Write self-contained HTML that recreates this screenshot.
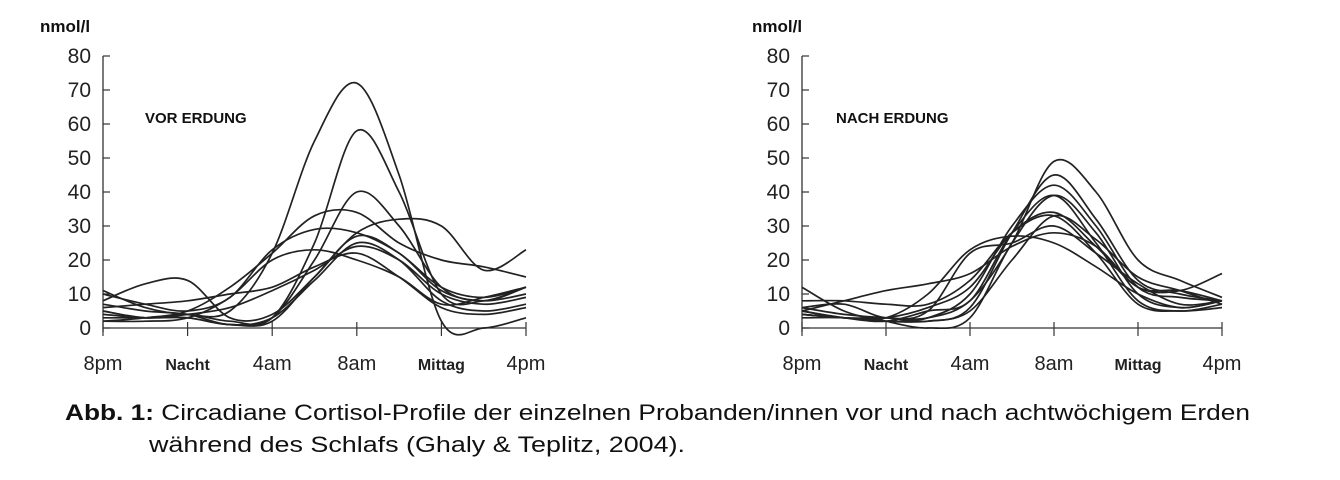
<!DOCTYPE html>
<html><head><meta charset="utf-8"><style>
body{margin:0;background:#fff;width:1340px;height:480px;overflow:hidden;font-family:"Liberation Sans",Arial,sans-serif}
svg{position:absolute;left:0;top:0}
</style></head><body>
<svg id="s" width="1340" height="480" xmlns="http://www.w3.org/2000/svg">
<g font-family="Liberation Sans, Arial, sans-serif">
<text x="40" y="32" font-size="17" font-weight="bold" fill="#111">nmol/l</text>
<text x="752" y="32" font-size="17" font-weight="bold" fill="#111">nmol/l</text>
<text x="145" y="123" font-size="15" font-weight="bold" fill="#111">VOR ERDUNG</text>
<text x="836" y="123" font-size="15" font-weight="bold" fill="#111">NACH ERDUNG</text>
<text x="65" y="420" font-size="22" fill="#111" textLength="1185" lengthAdjust="spacingAndGlyphs"><tspan font-weight="bold">Abb. 1:</tspan> Circadiane Cortisol-Profile der einzelnen Probanden/innen vor und nach achtwöchigem Erden</text>
<text x="149" y="452" font-size="22" fill="#111" textLength="536" lengthAdjust="spacingAndGlyphs">während des Schlafs (Ghaly &amp; Teplitz, 2004).</text>
</g>
<g id="g"></g>
</svg>
<script>
var g=document.getElementById('g'),NS='http://www.w3.org/2000/svg';
function el(t,a,txt){var e=document.createElementNS(NS,t);for(var k in a)e.setAttribute(k,a[k]);if(txt)e.textContent=txt;g.appendChild(e);return e;}
function chart(x0,x1,curves){
 var y0=328,dy=3.4,sx=(x1-x0)/5;
 el('line',{x1:x0,y1:56,x2:x0,y2:y0+4,stroke:'#333','stroke-width':1.3});
 el('line',{x1:x0,y1:y0,x2:x1,y2:y0,stroke:'#333','stroke-width':1.3});
 for(var i=0;i<=8;i++){var y=y0-i*34;
  el('line',{x1:x0,y1:y,x2:x0+7,y2:y,stroke:'#333','stroke-width':1.2});
  el('text',{x:x0-12,y:y+7,'font-size':21,'text-anchor':'end',fill:'#222','font-family':'Liberation Sans, Arial, sans-serif'},String(i*10));}
 var lab=['8pm','Nacht','4am','8am','Mittag','4pm'];
 for(var i=0;i<6;i++){var x=x0+i*sx;
  el('line',{x1:x,y1:y0-6,x2:x,y2:y0+8,stroke:'#333','stroke-width':1.2});
  var b=(i==1||i==4);
  el('text',{x:x,y:370,'font-size':b?16:20,'font-weight':b?'bold':'normal','text-anchor':'middle',fill:'#222','font-family':'Liberation Sans, Arial, sans-serif'},lab[i]);}
 curves.forEach(function(c){
  var p=c.map(function(v,i){return [x0+i*sx/2,y0-v*dy];});
  var d='M'+p[0][0]+','+p[0][1];
  for(var i=0;i<p.length-1;i++){var a=p[Math.max(i-1,0)],b=p[i],c2=p[i+1],e=p[Math.min(i+2,p.length-1)];
   d+=' C'+(b[0]+(c2[0]-a[0])/6)+','+(b[1]+(c2[1]-a[1])/6)+' '+(c2[0]-(e[0]-b[0])/6)+','+(c2[1]-(e[1]-b[1])/6)+' '+c2[0]+','+c2[1];}
  el('path',{d:d,fill:'none',stroke:'#222','stroke-width':1.7});
 });
}
chart(103,526,[
[11,6,4,5,22,55,72,45,2,0,3],[5,3,4,2,3,25,58,40,10,8,12],[3,3,3,1,3,20,40,30,12,8,12],
[2,3,5,12,22,33,34,25,20,18,15],[8,13,14,3,4,15,28,32,30,17,23],[10,7,5,9,23,29,28,22,12,9,12],
[4,3,3,1,2,15,27,22,11,8,10],[5,3,4,6,11,17,24,20,10,7,9],[6,7,8,10,12,18,22,15,6,4,6],
[7,5,4,1,3,14,25,20,8,5,7],[2,2,3,9,20,23,20,15,7,9,12]]);
chart(802,1222,[
[6,4,3,3,8,25,49,40,20,14,9],[5,3,3,2,6,28,45,32,14,10,8],[4,3,2,3,10,30,42,30,12,9,8],
[12,5,2,0,3,25,39,28,10,6,8],[5,3,2,5,8,28,39,25,8,5,7],[4,3,3,6,12,28,34,24,12,11,8],
[3,3,2,2,5,20,33,26,15,11,7],[6,7,3,5,22,25,30,22,13,7,8],[5,8,11,13,16,24,28,24,12,11,16],
[4,3,3,10,23,27,25,18,10,6,8],[8,8,7,7,14,28,33,22,7,5,6]]);
</script>
</body></html>
